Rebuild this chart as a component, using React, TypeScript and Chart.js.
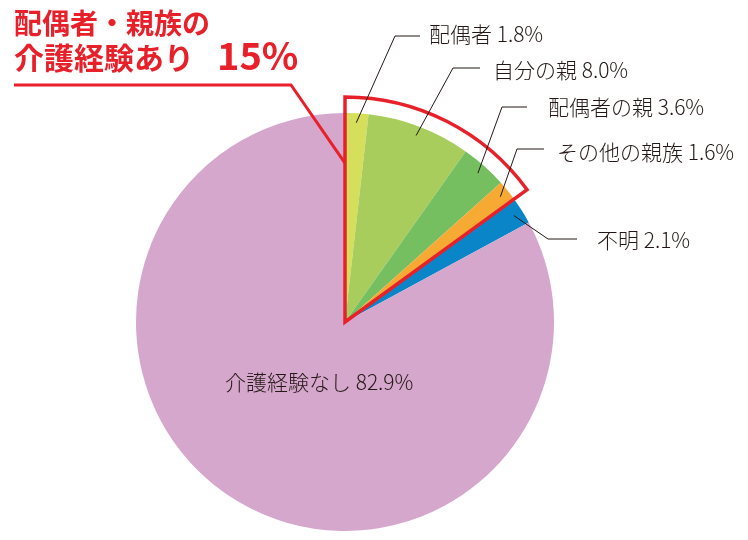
import React, { useEffect, useRef } from 'react';
import { Chart, registerables } from 'chart.js';

Chart.register(...registerables);

// ---- data ----
const categories = ['配偶者', '自分の親', '配偶者の親', 'その他の親族', '不明', '介護経験なし'];
const values = [1.8, 8.0, 3.6, 1.6, 2.1, 82.9];
const sliceColors = ['#d5df5b', '#a9cd5d', '#76bf60', '#f6aa34', '#0a86c8', '#d6a7cc'];
const outlinedCount = 4; // first four slices = family caregivers
const titleLine1 = '配偶者・親族の';
const titleLine2 = '介護経験あり';
const titleTotal = '15%';

// ---- layout (label placement only) ----
const labelLayout = [
  { elbowX: 395, elbowY: 36, lineEndX: 420, textX: 429, textY: 34 },
  { elbowX: 453, elbowY: 68, lineEndX: 480, textX: 493, textY: 70 },
  { elbowX: 502, elbowY: 107, lineEndX: 527, textX: 548, textY: 107 },
  { elbowX: 517, elbowY: 149, lineEndX: 544, textX: 557, textY: 152 },
  { elbowX: 548, elbowY: 239, lineEndX: 577, textX: 597, textY: 240 },
  { elbowX: 0, elbowY: 0, lineEndX: 0, textX: 225, textY: 382, inside: true },
];

const RED = '#e8202a';
const INK = '#231815';
const FONT = '"Noto Sans CJK JP", "Noto Sans", sans-serif';

const overlayPlugin = {
  id: 'overlay',
  afterDatasetsDraw(chart: any) {
    const ctx: CanvasRenderingContext2D = chart.ctx;
    const arcs = chart.getDatasetMeta(0).data as any[];
    const p0 = arcs[0].getProps(['x', 'y', 'outerRadius'], true);
    const cx = p0.x, cy = p0.y, R = p0.outerRadius;
    const start = arcs[0].startAngle;
    const end = arcs[outlinedCount - 1].endAngle;

    ctx.save();
    // red outline sector
    ctx.strokeStyle = RED;
    ctx.lineWidth = 3.5;
    ctx.lineJoin = 'miter';
    ctx.beginPath();
    ctx.moveTo(cx, cy);
    ctx.arc(cx, cy, R * 1.077, start, end);
    ctx.closePath();
    ctx.stroke();

    // title leader
    ctx.lineWidth = 3;
    ctx.beginPath();
    ctx.moveTo(14, 85);
    ctx.lineTo(291, 85);
    ctx.lineTo(cx, cy - R * 0.76);
    ctx.stroke();

    // title text
    ctx.fillStyle = RED;
    ctx.textAlign = 'left';
    ctx.textBaseline = 'alphabetic';
    ctx.font = `bold 28px ${FONT}`;
    ctx.fillText(titleLine1, 14, 34);
    ctx.font = `bold 30px ${FONT}`;
    ctx.fillText(titleLine2, 14, 69);
    ctx.font = `bold 38px ${FONT}`;
    ctx.fillText(titleTotal, 217, 70);

    // slice labels
    ctx.font = `300 21px ${FONT}`;
    ctx.textBaseline = 'middle';
    ctx.strokeStyle = INK;
    ctx.fillStyle = INK;
    ctx.lineWidth = 1;
    arcs.forEach((arc: any, i: number) => {
      const L = labelLayout[i];
      const text = `${categories[i]} ${values[i].toFixed(1)}%`;
      if (!(L as any).inside) {
        const mid = (arc.startAngle + arc.endAngle) / 2;
        const ix = cx + Math.cos(mid) * R * 0.955;
        const iy = cy + Math.sin(mid) * R * 0.955;
        ctx.beginPath();
        ctx.moveTo(ix, iy);
        ctx.lineTo(L.elbowX, L.elbowY);
        ctx.lineTo(L.lineEndX, L.elbowY);
        ctx.stroke();
      }
      ctx.fillText(text, L.textX, L.textY);
    });
    ctx.restore();
  },
};

export default function App() {
  const ref = useRef<HTMLCanvasElement>(null);
  useEffect(() => {
    if (!ref.current) return;
    const chart = new Chart(ref.current, {
      type: 'pie',
      data: {
        labels: categories,
        datasets: [
          {
            data: values,
            backgroundColor: sliceColors,
            borderWidth: 0,
          },
        ],
      },
      options: {
        responsive: false,
        animation: false,
        devicePixelRatio: 1,
        layout: { padding: { left: 136, right: 194, top: 113, bottom: 9 } },
        plugins: {
          legend: { display: false },
          tooltip: { enabled: false },
        },
      },
      plugins: [overlayPlugin],
    });
    return () => chart.destroy();
  }, []);
  return (
    <div style={{ position: 'fixed', left: 0, top: 0, width: 748, height: 540, background: '#fff' }}>
      <canvas ref={ref} width={748} height={540} style={{ width: 748, height: 540 }} />
    </div>
  );
}
